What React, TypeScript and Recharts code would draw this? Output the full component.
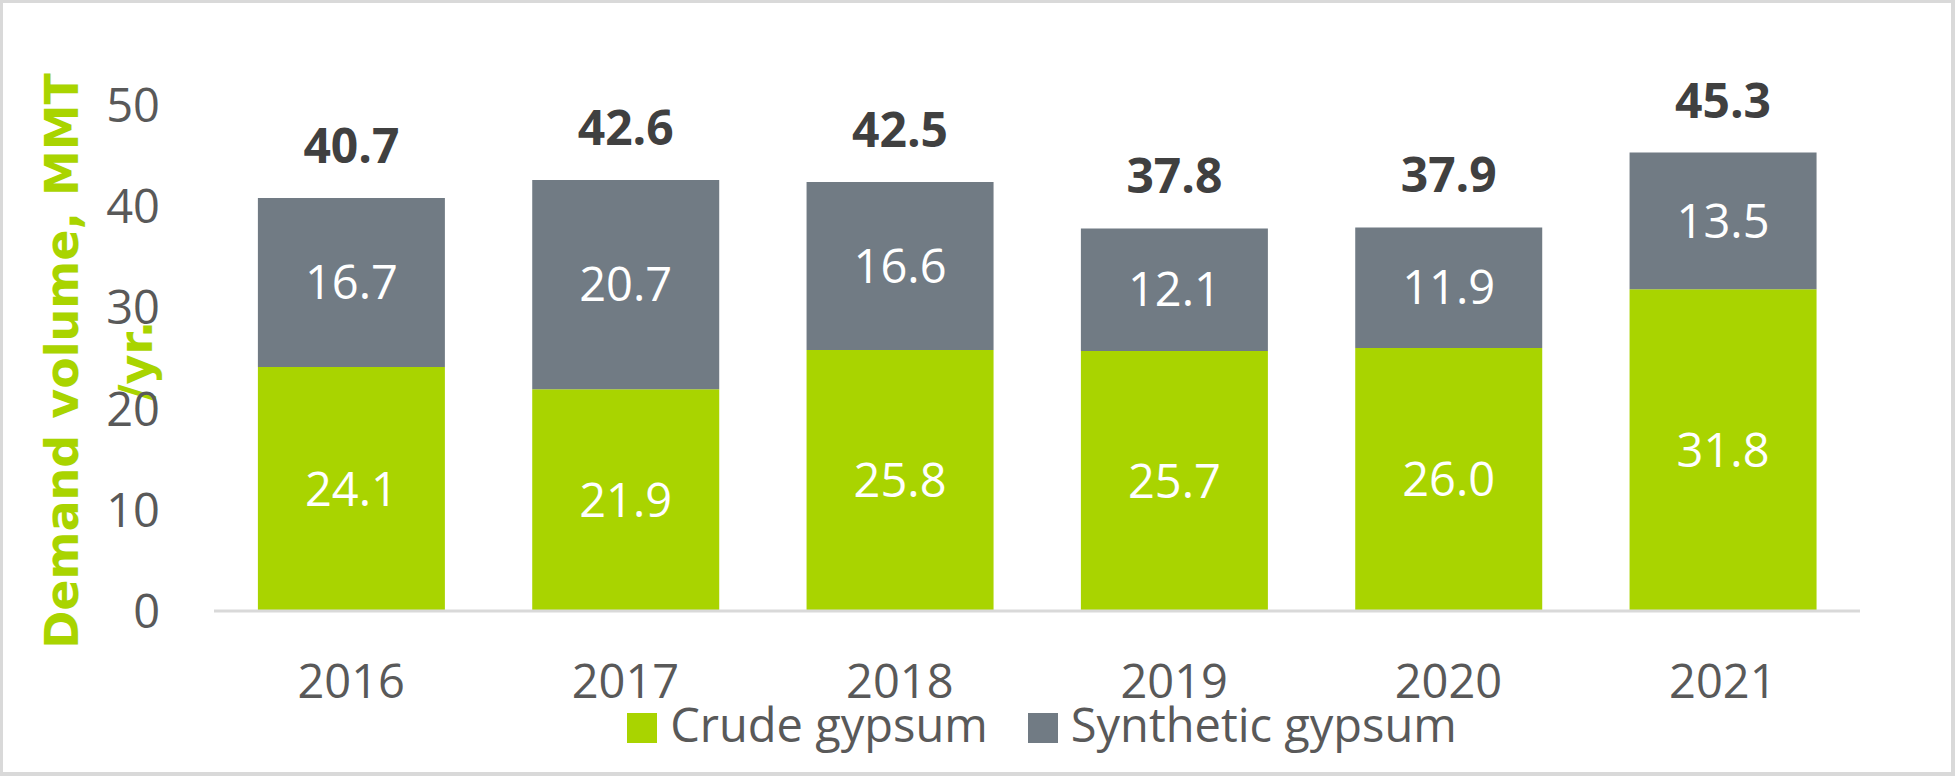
import { BarChart, Bar, XAxis, YAxis, Legend, LabelList } from 'recharts';

const years = ['2016', '2017', '2018', '2019', '2020', '2021'];
const crude = [24.1, 21.9, 25.8, 25.7, 26.0, 31.8];
const synthetic = [16.7, 20.7, 16.6, 12.1, 11.9, 13.5];
const totals = [40.7, 42.6, 42.5, 37.8, 37.9, 45.3];
const yTicks = [0, 10, 20, 30, 40, 50];

const GREEN = '#a9d400';
const GRAY = '#717b84';
const FONT = "'Open Sans', 'Liberation Sans', sans-serif";

const data = years.map((year, i) => ({
  year,
  crude: crude[i],
  synthetic: synthetic[i],
  total: totals[i],
}));

const XTick = (props: any) => {
  const { x, y, payload } = props;
  return (
    <text x={x} y={y + 87} textAnchor="middle" fill="#595959" fontSize={47} fontFamily={FONT}>
      {payload.value}
    </text>
  );
};

const YTick = (props: any) => {
  const { x, y, payload } = props;
  return (
    <text x={x - 54} y={y + 17} textAnchor="end" fill="#595959" fontSize={47} fontFamily={FONT}>
      {payload.value}
    </text>
  );
};

// two-line rotated axis title, second line overlaps the tick column like the original
const YLabel = (props: any) => {
  const { viewBox } = props;
  const cy = viewBox.y + viewBox.height / 2 + 3;
  const style = { fontFamily: "'DejaVu Sans', sans-serif", fontWeight: 700, fontSize: 46, fill: GREEN };
  return (
    <g>
      <text x={78} y={cy} textAnchor="middle" transform={`rotate(-90, 78, ${cy})`} style={style}>
        Demand volume, MMT
      </text>
      <text x={152} y={cy} textAnchor="middle" transform={`rotate(-90, 152, ${cy})`} style={style}>
        /yr.
      </text>
    </g>
  );
};

const TotalLabel = (props: any) => {
  const { x, y, width, value } = props;
  return (
    <text
      x={x + width / 2}
      y={y - 35}
      textAnchor="middle"
      fill="#404040"
      fontSize={48}
      fontWeight={700}
      fontFamily={FONT}
    >
      {Number(value).toFixed(1)}
    </text>
  );
};

const LegendContent = () => {
  const items = [
    { name: 'Crude gypsum', color: GREEN },
    { name: 'Synthetic gypsum', color: GRAY },
  ];
  return (
    <div style={{ display: 'flex', justifyContent: 'center', paddingLeft: 10 }}>
      {items.map((it, i) => (
        <div key={it.name} style={{ display: 'flex', alignItems: 'flex-start', marginRight: i === 0 ? 40 : 0 }}>
          <div style={{ width: 30, height: 30, background: it.color, marginTop: 12, marginRight: 13 }} />
          <span style={{ fontFamily: FONT, fontSize: 47, lineHeight: '47px', color: '#595959' }}>{it.name}</span>
        </div>
      ))}
    </div>
  );
};

export default function App() {
  return (
    <div style={{ position: 'absolute', top: 0, left: 0, width: 1955, height: 776, background: '#fff' }}>
      <div
        style={{
          position: 'absolute',
          inset: 0,
          borderTop: '3px solid #d9d9d9',
          borderLeft: '3px solid #d9d9d9',
          borderRight: '4px solid #d9d9d9',
          borderBottom: '4px solid #d9d9d9',
          boxSizing: 'border-box',
        }}
      />
      <div style={{ position: 'absolute', top: 0, left: 0 }}>
        <BarChart
          width={1955}
          height={776}
          data={data}
          margin={{ top: 105, right: 95, bottom: 65, left: 0 }}
          barCategoryGap="16%"
        >
          <XAxis
            dataKey="year"
            height={100}
            tickLine={false}
            tickSize={0}
            tickMargin={0}
            axisLine={{ stroke: '#d9d9d9', strokeWidth: 3 }}
            tick={<XTick />}
          />
          <YAxis
            width={214}
            domain={[0, 50]}
            ticks={yTicks}
            axisLine={false}
            tickLine={false}
            tickSize={0}
            tickMargin={0}
            tick={<YTick />}
            label={<YLabel />}
          />
          <Legend
            layout="horizontal"
            verticalAlign="middle"
            align="center"
            content={<LegendContent />}
            wrapperStyle={{ top: 701, left: 214, width: 1646, height: 60 }}
          />
          <Bar dataKey="crude" name="Crude gypsum" stackId="a" fill={GREEN} isAnimationActive={false}>
            <LabelList
              dataKey="crude"
              position="center"
              fill="#ffffff"
              fontSize={47}
              fontFamily={FONT}
              formatter={(v: any) => Number(v).toFixed(1)}
            />
          </Bar>
          <Bar dataKey="synthetic" name="Synthetic gypsum" stackId="a" fill={GRAY} isAnimationActive={false}>
            <LabelList
              dataKey="synthetic"
              position="center"
              fill="#ffffff"
              fontSize={47}
              fontFamily={FONT}
              formatter={(v: any) => Number(v).toFixed(1)}
            />
            <LabelList dataKey="total" content={<TotalLabel />} />
          </Bar>
        </BarChart>
      </div>
    </div>
  );
}
